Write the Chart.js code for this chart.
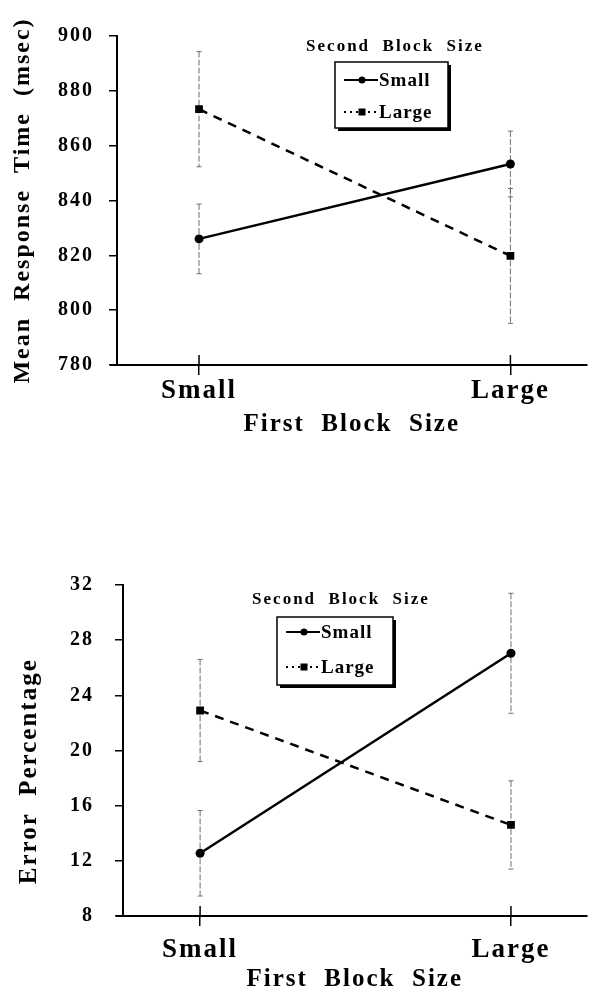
<!DOCTYPE html>
<html>
<head>
<meta charset="utf-8">
<title>First / Second Block Size</title>
<script src="https://cdn.jsdelivr.net/npm/chart.js@4.4.1/dist/chart.umd.min.js"></script>
<style>
  body { margin: 0; background: #fff; }
  canvas { position: absolute; left: 0; }
  #rt { top: 0; }
  #err { top: 550px; }
</style>
</head>
<body>
<canvas id="rt" width="592" height="445"></canvas>
<canvas id="err" width="592" height="442"></canvas>
<script>
"use strict"

const categories = ["Small", "Large"];          // first block size
const seriesNames = ["Small", "Large"];         // second block size

// mean response time (msec) and error bars
const rtSmall = [826, 853.3];
const rtSmallErr = [12.7, 12];
const rtLarge = [873.3, 819.8];
const rtLargeErr = [21, 24.6];
const rtTicks = [780, 800, 820, 840, 860, 880, 900];

// error percentage and error bars
const pcSmall = [12.55, 27.05];
const pcSmallErr = [3.1, 4.35];
const pcLarge = [22.9, 14.6];
const pcLargeErr = [3.7, 3.2];
const pcTicks = [8, 12, 16, 20, 24, 28, 32];

const FONT = "'Liberation Serif', 'Times New Roman', serif";

function toPoints(values) {
    return values.map((v, i) => ({ x: i, y: v }));
}

// the whole figure uses spaced-out letters
const spacing = {
    id: "spacing",
    beforeDraw(chart) {
        chart.ctx.letterSpacing = "2px";
    }
};

const errorBars = {
    id: "errorBars",
    beforeDatasetsDraw(chart) {
        let ctx = chart.ctx;
        let xs = chart.scales.x;
        let ys = chart.scales.y;
        ctx.save();
        ctx.strokeStyle = "#6e6e6e";
        ctx.lineWidth = 1;
        for (const ds of chart.data.datasets) {
            ds.data.forEach(function (p, i) {
                let e = ds.errors[i];
                let px = xs.getPixelForValue(p.x);
                let top = ys.getPixelForValue(p.y + e);
                let bot = ys.getPixelForValue(p.y - e);
                ctx.setLineDash([6, 2]);
                ctx.beginPath();
                ctx.moveTo(px, top);
                ctx.lineTo(px, bot);
                ctx.stroke();
                ctx.setLineDash([]);
                ctx.beginPath();
                ctx.moveTo(px - 2.5, top);
                ctx.lineTo(px + 2.5, top);
                ctx.moveTo(px - 2.5, bot);
                ctx.lineTo(px + 2.5, bot);
                ctx.stroke();
            });
        }
        ctx.restore();
    },
    afterDraw(chart) {
        // tick marks crossing the x axis, and the axis stub left of the y axis
        let ctx = chart.ctx;
        let xs = chart.scales.x;
        let area = chart.chartArea;
        ctx.save();
        ctx.strokeStyle = "#000";
        ctx.lineWidth = 1.5;
        ctx.beginPath();
        for (const t of xs.ticks) {
            let px = xs.getPixelForValue(t.value);
            ctx.moveTo(px, area.bottom - 10);
            ctx.lineTo(px, area.bottom);
        }
        ctx.stroke();
        ctx.lineWidth = 2;
        ctx.beginPath();
        ctx.moveTo(area.left - 7, area.bottom);
        ctx.lineTo(area.left, area.bottom);
        ctx.stroke();
        ctx.restore();
    }
};

const boxLegend = {
    id: "boxLegend",
    afterDraw(chart, args, o) {
        let ctx = chart.ctx;
        ctx.save();
        ctx.fillStyle = "#000";
        ctx.textBaseline = "middle";
        ctx.letterSpacing = "2px";
        ctx.font = "bold 17px " + FONT;
        ctx.textAlign = "center";
        ctx.fillText(o.title, o.titleX, o.titleY);

        ctx.fillRect(o.x + 3, o.y + 3, o.w, o.h);
        ctx.fillStyle = "#fff";
        ctx.fillRect(o.x, o.y, o.w, o.h);
        ctx.strokeStyle = "#000";
        ctx.lineWidth = 1.5;
        ctx.strokeRect(o.x, o.y, o.w, o.h);

        ctx.font = "bold 19px " + FONT;
        ctx.letterSpacing = "1px";
        ctx.textAlign = "left";
        chart.data.datasets.forEach(function (ds, i) {
            let cy = o.y + o.rowTop + i * o.rowGap;
            let x0 = o.x + 9;
            ctx.strokeStyle = "#000";
            ctx.fillStyle = "#000";
            ctx.lineWidth = 2;
            ctx.setLineDash(o.dashes[i]);
            ctx.beginPath();
            ctx.moveTo(x0, cy);
            ctx.lineTo(x0 + 34, cy);
            ctx.stroke();
            ctx.setLineDash([]);
            if (ds.pointStyle === "rect") {
                ctx.fillRect(x0 + 18 - 3.5, cy - 3.5, 7, 7);
            } else {
                ctx.beginPath();
                ctx.arc(x0 + 18, cy, 3.5, 0, Math.PI * 2);
                ctx.fill();
            }
            ctx.fillText(ds.label, x0 + 35, cy + 1);
        });
        ctx.restore();
    }
};

function creaGrafico(canvas, cfg) {
    return new Chart(canvas, {
        type: "line",
        data: {
            datasets: [
                {
                    label: seriesNames[0],
                    data: toPoints(cfg.small),
                    errors: cfg.smallErr,
                    borderColor: "#000",
                    backgroundColor: "#000",
                    borderWidth: 2.5,
                    pointStyle: "circle",
                    pointRadius: 4.5,
                    pointBorderWidth: 0
                },
                {
                    label: seriesNames[1],
                    data: toPoints(cfg.large),
                    errors: cfg.largeErr,
                    borderColor: "#000",
                    backgroundColor: "#000",
                    borderWidth: 2.5,
                    borderDash: [9, 7],
                    pointStyle: "rect",
                    pointRadius: 5.5,
                    pointBorderWidth: 0
                }
            ]
        },
        options: {
            responsive: false,
            animation: false,
            layout: { padding: { top: cfg.top, left: 0, right: 0, bottom: 0 } },
            plugins: {
                legend: { display: false },
                tooltip: { enabled: false },
                boxLegend: cfg.legend
            },
            scales: {
                x: {
                    type: "linear",
                    min: cfg.xMin,
                    max: cfg.xMax,
                    afterBuildTicks: function (s) {
                        s.ticks = categories.map((c, i) => ({ value: i }));
                    },
                    afterFit: function (s) { s.height = cfg.xHeight; },
                    ticks: {
                        callback: (v) => categories[v],
                        color: "#000",
                        font: { family: FONT, size: 27, weight: "bold" },
                        padding: cfg.xPad,
                        maxRotation: 0,
                        autoSkip: false
                    },
                    grid: { drawOnChartArea: false, tickLength: 10, color: "#000", lineWidth: 1.5 },
                    border: { color: "#000", width: 2 },
                    title: {
                        display: true,
                        text: "First  Block  Size",
                        color: "#000",
                        font: { family: FONT, size: 25, weight: "bold", lineHeight: cfg.xTitleLH },
                        padding: { top: 0, bottom: cfg.xTitlePad }
                    }
                },
                y: {
                    min: cfg.ticks[0],
                    max: cfg.ticks[cfg.ticks.length - 1],
                    afterBuildTicks: function (s) {
                        s.ticks = cfg.ticks.map((v) => ({ value: v }));
                    },
                    afterFit: function (s) { s.width = cfg.yWidth; },
                    ticks: {
                        color: "#000",
                        font: { family: FONT, size: 20, weight: "bold" },
                        padding: cfg.yPad
                    },
                    grid: { drawOnChartArea: false, tickLength: 8, color: "#000", lineWidth: 1.5 },
                    border: { color: "#000", width: 2 },
                    title: {
                        display: true,
                        text: cfg.yTitle,
                        color: "#000",
                        font: { family: FONT, size: cfg.yTitleSize, weight: "bold" },
                        padding: { top: cfg.yTitlePad, bottom: 0 }
                    }
                }
            }
        },
        plugins: [spacing, errorBars, boxLegend]
    });
}

creaGrafico(document.getElementById("rt"), {
    small: rtSmall, smallErr: rtSmallErr,
    large: rtLarge, largeErr: rtLargeErr,
    ticks: rtTicks,
    top: 36, xHeight: 80, yWidth: 117,
    xMin: -0.2635, xMax: 1.2444,
    xPad: 0, xTitlePad: 5, xTitleLH: 1.2,
    yPad: 15, yTitle: "Mean  Response  Time  (msec)", yTitleSize: 24, yTitlePad: 8,
    legend: {
        title: "Second  Block  Size", titleX: 395, titleY: 47,
        x: 335, y: 62, w: 113, h: 66, rowTop: 18, rowGap: 32,
        dashes: [[], [2, 4]]
    }
});

creaGrafico(document.getElementById("err"), {
    small: pcSmall, smallErr: pcSmallErr,
    large: pcLarge, largeErr: pcLargeErr,
    ticks: pcTicks,
    top: 35, xHeight: 76, yWidth: 123,
    xMin: -0.248, xMax: 1.243,
    xPad: 8, xTitlePad: 0, xTitleLH: 1,
    yPad: 21, yTitle: "Error  Percentage\u2003\u2002", yTitleSize: 25, yTitlePad: 15,
    legend: {
        title: "Second  Block  Size", titleX: 341, titleY: 50,
        x: 277, y: 67, w: 116, h: 68, rowTop: 15, rowGap: 35,
        dashes: [[], [2, 4]]
    }
});
</script>
</body>
</html>
